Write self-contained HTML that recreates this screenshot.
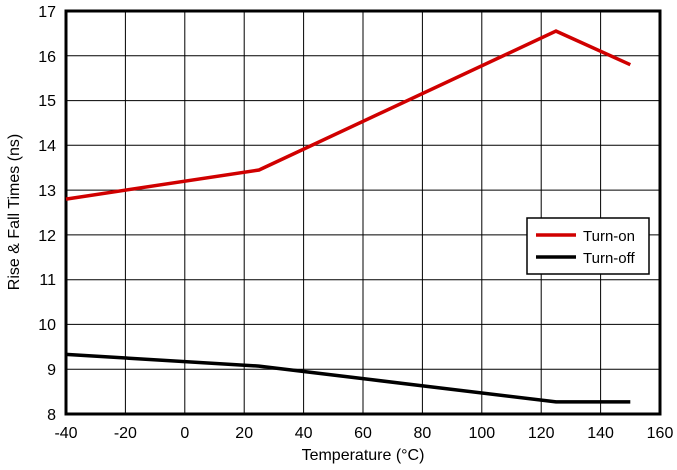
<!DOCTYPE html>
<html><head><style>body{margin:0;background:#fff}</style></head><body>
<svg width="677" height="465" xmlns="http://www.w3.org/2000/svg" font-family="Liberation Sans, sans-serif" font-size="16">
<rect width="677" height="465" fill="#fff"/>
<g stroke="#000" stroke-width="1">
<line x1="125.4" y1="11" x2="125.4" y2="414"/><line x1="184.8" y1="11" x2="184.8" y2="414"/>
<line x1="244.2" y1="11" x2="244.2" y2="414"/><line x1="303.6" y1="11" x2="303.6" y2="414"/>
<line x1="363" y1="11" x2="363" y2="414"/><line x1="422.4" y1="11" x2="422.4" y2="414"/>
<line x1="481.8" y1="11" x2="481.8" y2="414"/><line x1="541.2" y1="11" x2="541.2" y2="414"/>
<line x1="600.6" y1="11" x2="600.6" y2="414"/>
<line x1="66" y1="55.8" x2="660" y2="55.8"/><line x1="66" y1="100.6" x2="660" y2="100.6"/>
<line x1="66" y1="145.3" x2="660" y2="145.3"/><line x1="66" y1="190.1" x2="660" y2="190.1"/>
<line x1="66" y1="234.9" x2="660" y2="234.9"/><line x1="66" y1="279.7" x2="660" y2="279.7"/>
<line x1="66" y1="324.4" x2="660" y2="324.4"/><line x1="66" y1="369.2" x2="660" y2="369.2"/>
</g>
<rect x="66" y="11" width="594" height="403" fill="none" stroke="#000" stroke-width="3"/>
<polyline points="66,199.1 259,170 556,31.1 630.3,64.7" fill="none" stroke="#d00000" stroke-width="3.5"/>
<polyline points="66,354.4 259,366.1 556,401.9 630.3,401.9" fill="none" stroke="#000" stroke-width="3.5"/>
<rect x="527" y="218" width="122" height="56" fill="#fff" stroke="#000" stroke-width="1.5"/>
<line x1="536" y1="235" x2="576" y2="235" stroke="#d00000" stroke-width="3.5"/>
<line x1="536" y1="257" x2="576" y2="257" stroke="#000" stroke-width="3.5"/>
<text x="583" y="241" font-size="15">Turn-on</text>
<text x="583" y="263" font-size="15">Turn-off</text>
<g text-anchor="end">
<text x="56" y="17">17</text><text x="56" y="62">16</text><text x="56" y="106">15</text>
<text x="56" y="151">14</text><text x="56" y="196">13</text><text x="56" y="241">12</text>
<text x="56" y="285">11</text><text x="56" y="330">10</text><text x="56" y="375">9</text>
<text x="56" y="420">8</text>
</g>
<g text-anchor="middle">
<text x="66" y="438">-40</text><text x="125.4" y="438">-20</text><text x="184.8" y="438">0</text>
<text x="244.2" y="438">20</text><text x="303.6" y="438">40</text><text x="363" y="438">60</text>
<text x="422.4" y="438">80</text><text x="481.8" y="438">100</text><text x="541.2" y="438">120</text>
<text x="600.6" y="438">140</text><text x="660" y="438">160</text>
<text x="363" y="460">Temperature (°C)</text>
<text transform="translate(19,212) rotate(-90)">Rise &amp; Fall Times (ns)</text>
</g>
</svg>
</body></html>
